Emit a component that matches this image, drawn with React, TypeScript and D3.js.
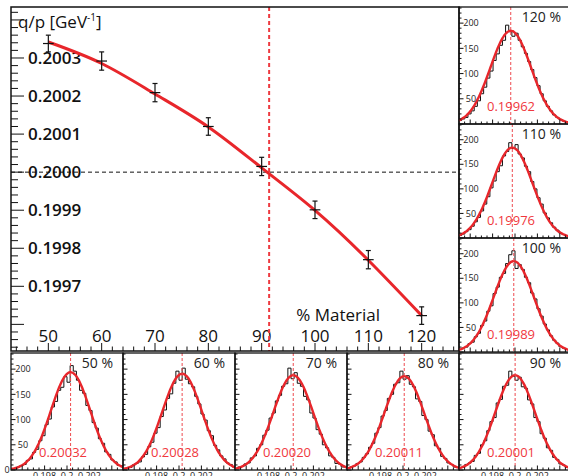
import React from 'react'
import * as d3 from 'd3'

// main plot: fitted q/p versus material scale
const material = [50, 60, 70, 80, 90, 100, 110, 120]
const qpMean = [0.200338, 0.200292, 0.200209, 0.20012, 0.200015, 0.199901, 0.19977, 0.199623]
const qpErr = [0.000022, 0.000024, 0.000024, 0.000023, 0.000024, 0.000023, 0.000024, 0.000023]
const fitX = [50, 60, 70, 80, 90, 100, 110, 120]
const fitQp = [0.200342, 0.2002856, 0.2002055, 0.2001189, 0.2000113, 0.1998997, 0.1997685, 0.199623]
const crossing = 91.4
const refQp = 0.2
const yTickLabels = ['0.1997', '0.1998', '0.1999', '0.2000', '0.2001', '0.2002', '0.2003']
const xTickLabels = ['50', '60', '70', '80', '90', '100', '110', '120']

// histograms: 40 bins starting at binLo
const binLo = 0.1944
const binWidth = 0.00028
const h50 = [0, 2, 3, 2, 6, 9, 11, 19, 22, 35, 41, 58, 68, 90, 101, 125, 136, 158, 164, 185, 174, 207, 196, 178, 158, 152, 128, 118, 94, 83, 62, 53, 36, 31, 20, 16, 9, 8, 4, 7]
const h60 = [1, 1, 3, 4, 5, 10, 13, 16, 26, 31, 46, 55, 73, 84, 106, 119, 142, 151, 172, 196, 178, 202, 180, 171, 165, 146, 131, 111, 99, 78, 68, 49, 40, 28, 22, 14, 11, 6, 5, 2]
const h70 = [1, 3, 3, 6, 7, 12, 14, 24, 28, 43, 50, 69, 79, 103, 113, 137, 148, 166, 171, 202, 181, 193, 172, 166, 146, 139, 113, 103, 80, 71, 50, 44, 28, 25, 13, 12, 6, 6, 2, 2]
const h80 = [2, 2, 4, 6, 8, 13, 16, 25, 32, 45, 53, 73, 84, 107, 118, 142, 150, 170, 173, 196, 180, 187, 170, 165, 141, 136, 108, 100, 77, 70, 48, 43, 27, 23, 14, 11, 6, 5, 3, 1]
const h90 = [1, 3, 5, 5, 11, 14, 17, 29, 33, 50, 58, 78, 96, 104, 133, 140, 166, 168, 196, 186, 178, 184, 165, 162, 139, 131, 104, 96, 72, 63, 44, 39, 25, 21, 12, 10, 5, 5, 2, 1]
const h100 = [2, 3, 5, 8, 10, 17, 20, 31, 38, 54, 63, 83, 94, 119, 132, 152, 160, 180, 198, 206, 170, 178, 168, 152, 141, 120, 108, 88, 73, 57, 45, 33, 24, 18, 11, 8, 5, 4, 2, 1]
const h110 = [2, 4, 5, 8, 13, 17, 24, 33, 42, 55, 69, 84, 102, 116, 135, 147, 167, 176, 194, 182, 190, 171, 163, 146, 135, 115, 100, 82, 69, 51, 41, 31, 22, 16, 10, 7, 5, 3, 1, 1]
const h120 = [3, 4, 7, 10, 13, 20, 26, 35, 46, 60, 73, 91, 105, 126, 139, 156, 166, 196, 183, 174, 180, 166, 153, 140, 124, 108, 92, 76, 60, 46, 35, 26, 18, 13, 9, 6, 4, 2, 1, 1]

const histLabels = ['50 %', '60 %', '70 %', '80 %', '90 %', '100 %', '110 %', '120 %']
const fitMeanText = ['0.20032', '0.20028', '0.20020', '0.20011', '0.20001', '0.19989', '0.19976', '0.19962']
const fitMeans = [0.20032, 0.20028, 0.2002, 0.20011, 0.20001, 0.19989, 0.19976, 0.19962]
const fitSigma = [0.00176, 0.00177, 0.00178, 0.00178, 0.00178, 0.00179, 0.0018, 0.00181]
const fitAmp = [194, 191, 188, 186, 188, 185, 184, 185]
const histTicks = ['0.198', '0.2', '0.202']

const RED = '#e8262b'
const FONT = '"Open Sans", "DejaVu Sans", sans-serif'

type PanelProps = {
  x: number; y: number; w: number; h: number
  idx: number; counts: number[]
  yLabels: boolean; zeroLabel?: boolean; xLabels: boolean
}

function Panel({ x, y, w, h, idx, counts, yLabels, zeroLabel, xLabels }: PanelProps) {
  const xs = d3.scaleLinear().domain([0.195, 0.205]).range([x, x + w])
  const ys = d3.scaleLinear().domain([0, 232]).range([y + h, y])

  const pts: [number, number][] = [[binLo, 0]]
  counts.forEach((c, i) => pts.push([binLo + i * binWidth, c]))
  pts.push([binLo + counts.length * binWidth, counts[counts.length - 1]])
  pts.push([binLo + counts.length * binWidth, 0])
  const step = d3.line<[number, number]>()
    .x(d => xs(d[0])).y(d => ys(d[1])).curve(d3.curveStepAfter)

  const m = fitMeans[idx], s = fitSigma[idx], a = fitAmp[idx]
  const gx = d3.range(0.195, 0.20501, 0.0001)
  const gauss = d3.line<number>()
    .x(d => xs(d)).y(d => ys(a * Math.exp(-((d - m) ** 2) / (2 * s * s))))
    .curve(d3.curveBasis)

  const yMinor = d3.range(0, 231, 10)
  const xMinor = d3.range(0.1955, 0.2049, 0.0005)

  return (
    <g>
      <clipPath id={'clip' + idx}><rect x={x} y={y} width={w} height={h} /></clipPath>
      <g clipPath={`url(#clip${idx})`}>
        <path d={step(pts) || ''} fill="none" stroke="#111" strokeWidth={1} />
        <path d={gauss(gx) || ''} fill="none" stroke={RED} strokeWidth={2.4} />
        <line x1={xs(m)} x2={xs(m)} y1={y} y2={y + h} stroke="#ee4a4f" strokeWidth={1} strokeDasharray="3,2" />
      </g>
      {yMinor.map(v => (
        <line key={'ym' + v} x1={x} x2={x + (v % 50 === 0 ? 4.5 : 2.5)} y1={ys(v)} y2={ys(v)} stroke="#111" strokeWidth={1} />
      ))}
      {xMinor.map((v, i) => (
        <line key={'xm' + i} x1={xs(v)} x2={xs(v)} y1={y + h} y2={y + h - (i % 4 === 1 ? 4.5 : 2.5)} stroke="#111" strokeWidth={1} />
      ))}
      <rect x={x} y={y} width={w} height={h} fill="none" stroke="#111" strokeWidth={1.3} />
      {yLabels && [50, 100, 150, 200].map(v => (
        <text key={'yl' + v} x={x + 12} y={ys(v)} dy="0.35em" textAnchor="middle" fontSize={9} fill="#222" fontFamily={FONT}>{v}</text>
      ))}
      {zeroLabel && (
        <text x={x - 4} y={ys(0)} dy="0.35em" textAnchor="middle" fontSize={9} fill="#222" fontFamily={FONT}>0</text>
      )}
      {xLabels && histTicks.map(t => (
        <text key={'xl' + t} x={xs(+t)} y={y + h + 9} textAnchor="middle" fontSize={9} fill="#222" fontFamily={FONT}>{t}</text>
      ))}
      <text x={x + w - 10} y={y + 15} textAnchor="end" fontSize={14} fill="#222" fontFamily={FONT}>{histLabels[idx]}</text>
      <text x={x + w / 2 - 4} y={y + h - 13} textAnchor="middle" fontSize={13} fill="#f0383d" fontFamily={FONT}>{fitMeanText[idx]}</text>
    </g>
  )
}

export default function App() {
  const W = 568, H = 476
  const L = 11, T = 7, R = 459, B = 351
  const xs = d3.scaleLinear().domain([43, 127]).range([L, R])
  const ys = d3.scaleLinear().domain([0.19953, 0.200434]).range([B, T])

  const fit = d3.line<number>()
    .x((_, i) => xs(fitX[i])).y(d => ys(d)).curve(d3.curveNatural)

  const xMinor = d3.range(44, 127, 2)
  const yMinor = d3.range(0.19954, 0.20043, 0.00002)

  const bottom = [h50, h60, h70, h80, h90]
  const right = [h100, h110, h120]
  const rightRows = [[238, 114], [124, 114], [7, 117]]

  return (
    <svg width={W} height={H} style={{ position: 'absolute', left: 0, top: 0, background: '#fff' }}>
      {/* main frame ticks */}
      {xMinor.map(v => (
        <line key={'x' + v} x1={xs(v)} x2={xs(v)} y1={B} y2={B - (v % 10 === 0 ? 8 : 4.5)} stroke="#111" strokeWidth={1} />
      ))}
      {yMinor.map((v, i) => (
        <line key={'y' + i} x1={L} x2={L + (i % 5 === 3 ? 13 : 7)} y1={ys(v)} y2={ys(v)} stroke="#111" strokeWidth={1} />
      ))}
      {yTickLabels.map(t => (
        <text key={t} x={L + 17} y={ys(+t)} dy="0.36em" fontSize={17} fontWeight={600} fill="#111" fontFamily={FONT}>{t}</text>
      ))}
      {xTickLabels.map(t => (
        <text key={t} x={xs(+t)} y={B - 9} textAnchor="middle" fontSize={17} fill="#111" fontFamily={FONT}>{t}</text>
      ))}
      <text x={380} y={B - 30} textAnchor="end" fontSize={17} fill="#111" fontFamily={FONT}>% Material</text>
      <text x={L + 7} y={T + 21} fontSize={17} fill="#111" fontFamily={FONT}>
        q/p [GeV<tspan fontSize={10} dy={-7}>-1</tspan><tspan dy={7}>]</tspan>
      </text>

      {/* reference lines */}
      <line x1={L} x2={R} y1={ys(refQp)} y2={ys(refQp)} stroke="#111" strokeWidth={1} strokeDasharray="4,3" />
      <line x1={xs(crossing)} x2={xs(crossing)} y1={T} y2={B} stroke="#ee3a40" strokeWidth={2} strokeDasharray="4,3" />

      {/* fit curve */}
      <path d={fit(fitQp) || ''} fill="none" stroke={RED} strokeWidth={3} />

      {/* data points with errors */}
      {material.map((m, i) => {
        const cx = xs(m), cy = ys(qpMean[i])
        const y1 = ys(qpMean[i] + qpErr[i]), y2 = ys(qpMean[i] - qpErr[i])
        return (
          <g key={m} stroke="#111" strokeWidth={1.2}>
            <line x1={xs(m - 1)} x2={xs(m + 1)} y1={cy} y2={cy} />
            <line x1={cx} x2={cx} y1={y1} y2={y2} />
            <line x1={cx - 2.5} x2={cx + 2.5} y1={y1} y2={y1} />
            <line x1={cx - 2.5} x2={cx + 2.5} y1={y2} y2={y2} />
          </g>
        )
      })}
      <rect x={L} y={T} width={R - L} height={B - T} fill="none" stroke="#111" strokeWidth={1.5} />

      {/* projection histograms */}
      {bottom.map((c, i) => (
        <Panel key={'b' + i} x={L + i * 112} y={353} w={112} h={117} idx={i} counts={c}
          yLabels={i === 0} zeroLabel={i === 0} xLabels={true} />
      ))}
      {right.map((c, i) => (
        <Panel key={'r' + i} x={R} y={rightRows[i][0]} w={112} h={rightRows[i][1]} idx={5 + i} counts={c}
          yLabels={true} xLabels={false} />
      ))}
    </svg>
  )
}
